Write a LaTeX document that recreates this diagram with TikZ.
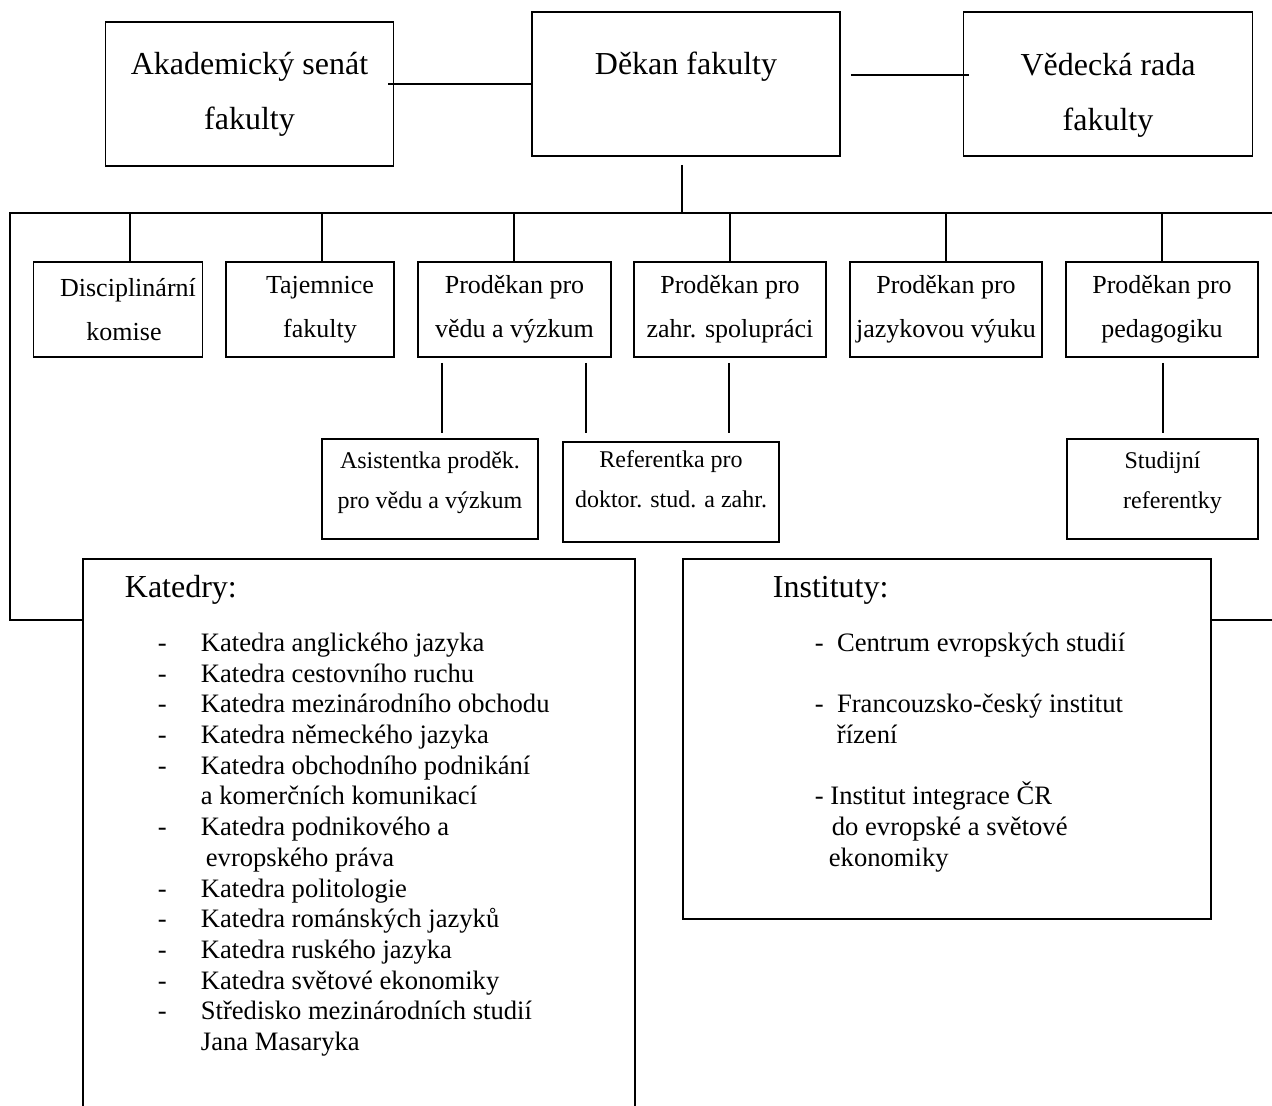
\documentclass[tikz,border=0pt]{standalone}
\usepackage{fontspec}
\setmainfont{Liberation Serif}
\usetikzlibrary{calc,positioning}
\newcommand{\pol}{\makebox[21.5pt][l]{-}}
\newcommand{\dal}{\hspace*{21.5pt}}

\begin{document}
\begin{tikzpicture}[x=0.5pt,y=-0.5pt,line width=0.9pt,
  velky/.style={draw,font=\fontsize{16}{27.5}\selectfont,align=center,inner sep=0pt,minimum height=72pt},
  stredni/.style={draw,font=\fontsize{13}{22}\selectfont,align=center,inner sep=0pt,minimum height=47.5pt},
  maly/.style={draw,font=\fontsize{12}{20}\selectfont,align=center,inner sep=0pt,minimum height=50pt,text depth=9pt},
  nadpis/.style={font=\fontsize{16}{19}\selectfont,anchor=west,inner sep=0pt},
  seznam/.style={font=\fontsize{13.3}{15.35}\selectfont,align=left,inner sep=0pt,anchor=north west},
  ramec/.style={draw,inner sep=0pt,anchor=north west}]
  \useasboundingbox (0,0) rectangle (1272,1106);
  \clip (0,0) rectangle (1272,1106);

  \node[velky,minimum width=144pt] (senat) at (249.5,94) {Akademický senát\\fakulty};
  \node[velky,minimum width=154pt,text depth=21pt] (dekan) at (686,84) {Děkan fakulty};
  \node[velky,minimum width=144.5pt] (rada) at (1108,84) {\rule{0pt}{22pt}Vědecká rada\\fakulty};

  \node[stredni,minimum width=84.5pt] (disc) at (118,309.5) {\hspace*{10pt}Disciplinární\\\hspace*{6pt}komise};
  \node[stredni,minimum width=84pt] (taj) at (310,309.5) {\hspace*{10pt}Tajemnice\\\hspace*{10pt}fakulty};
  \node[stredni,minimum width=96.5pt] (veda) at (514.5,309.5) {Proděkan pro\\vědu a výzkum};
  \node[stredni,minimum width=96pt] (zahr) at (730,309.5) {Proděkan pro\\zahr. spolupráci};
  \node[stredni,minimum width=96pt] (jazyk) at (946,309.5) {Proděkan pro\\jazykovou výuku};
  \node[stredni,minimum width=96pt] (pedag) at (1162,309.5) {Proděkan pro\\pedagogiku};

  \node[maly,minimum width=108pt] (asist) at (430,489) {Asistentka proděk.\\pro vědu a výzkum};
  \node[maly,minimum width=108pt,text depth=13pt] (refer) at (671,492) {Referentka pro\\doktor. stud. a zahr.};
  \node[maly,minimum width=95.5pt] (stud) at (1162.5,489) {Studijní\\\hspace*{10pt}referentky};

  \node[ramec,minimum width=276pt,minimum height=300pt] (katedry) at (82,558) {};
  \node[nadpis] (katnadpis) at (124,590) {Katedry:};
  \node[seznam] (katseznam) at (157,632) {\pol Katedra anglického jazyka\\
    \pol Katedra cestovního ruchu\\
    \pol Katedra mezinárodního obchodu\\
    \pol Katedra německého jazyka\\
    \pol Katedra obchodního podnikání\\
    \dal a komerčních komunikací\\
    \pol Katedra podnikového a\\
    \hspace*{24pt}evropského práva\\
    \pol Katedra politologie\\
    \pol Katedra románských jazyků\\
    \pol Katedra ruského jazyka\\
    \pol Katedra světové ekonomiky\\
    \pol Středisko mezinárodních studií\\
    \dal Jana Masaryka};

  \node[ramec,minimum width=264pt,minimum height=180pt] (instituty) at (682,558) {};
  \node[nadpis] (instnadpis) at (772,590) {Instituty:};
  \node[seznam] (instseznam) at (814,632) {-~~Centrum evropských studií\\[15.35pt]
    -~~Francouzsko-český institut\\
    \hspace*{11pt}řízení\\[15.35pt]
    -~Institut integrace ČR\\
    \hspace*{8.5pt}do evropské a světové\\
    \hspace*{7pt}ekonomiky};

  \coordinate (busL) at (10,213);
  \coordinate (busR) at (1272,213);
  \draw ($(senat.east)+(-6,-10)$) -- (dekan.west);
  \draw ($(dekan.east)+(10,-9)$) -- ($(rada.west)+(6,-9)$);
  \draw ($(dekan.south)+(-4,8)$) -- ($(dekan.south |- busL)+(-4,0)$);
  \draw ($(katedry.north west)+(0,62)$) -| (busL) -- (busR);
  \draw ($(instituty.north east)+(0,62)$) -- ($(busR |- instituty.north east)+(0,62)$);
  \foreach \n/\s in {disc/12,taj/12,veda/-0.5,zahr/0,jazyk/0,pedag/0}
    \draw ($(\n.north)+(\s,0)$) -- ($(\n.north |- busL)+(\s,0)$);
  \draw ($(veda.south)+(-72.5,5)$) -- ($(asist.north)+(12,-5)$);
  \draw ($(veda.south)+(71.5,5)$) -- ($(refer.north)+(-85,-8)$);
  \draw ($(zahr.south)+(-1,5)$) -- ($(refer.north)+(58,-8)$);
  \draw ($(pedag.south)+(1,5)$) -- ($(stud.north)+(0.5,-5)$);
\end{tikzpicture}
\end{document}
